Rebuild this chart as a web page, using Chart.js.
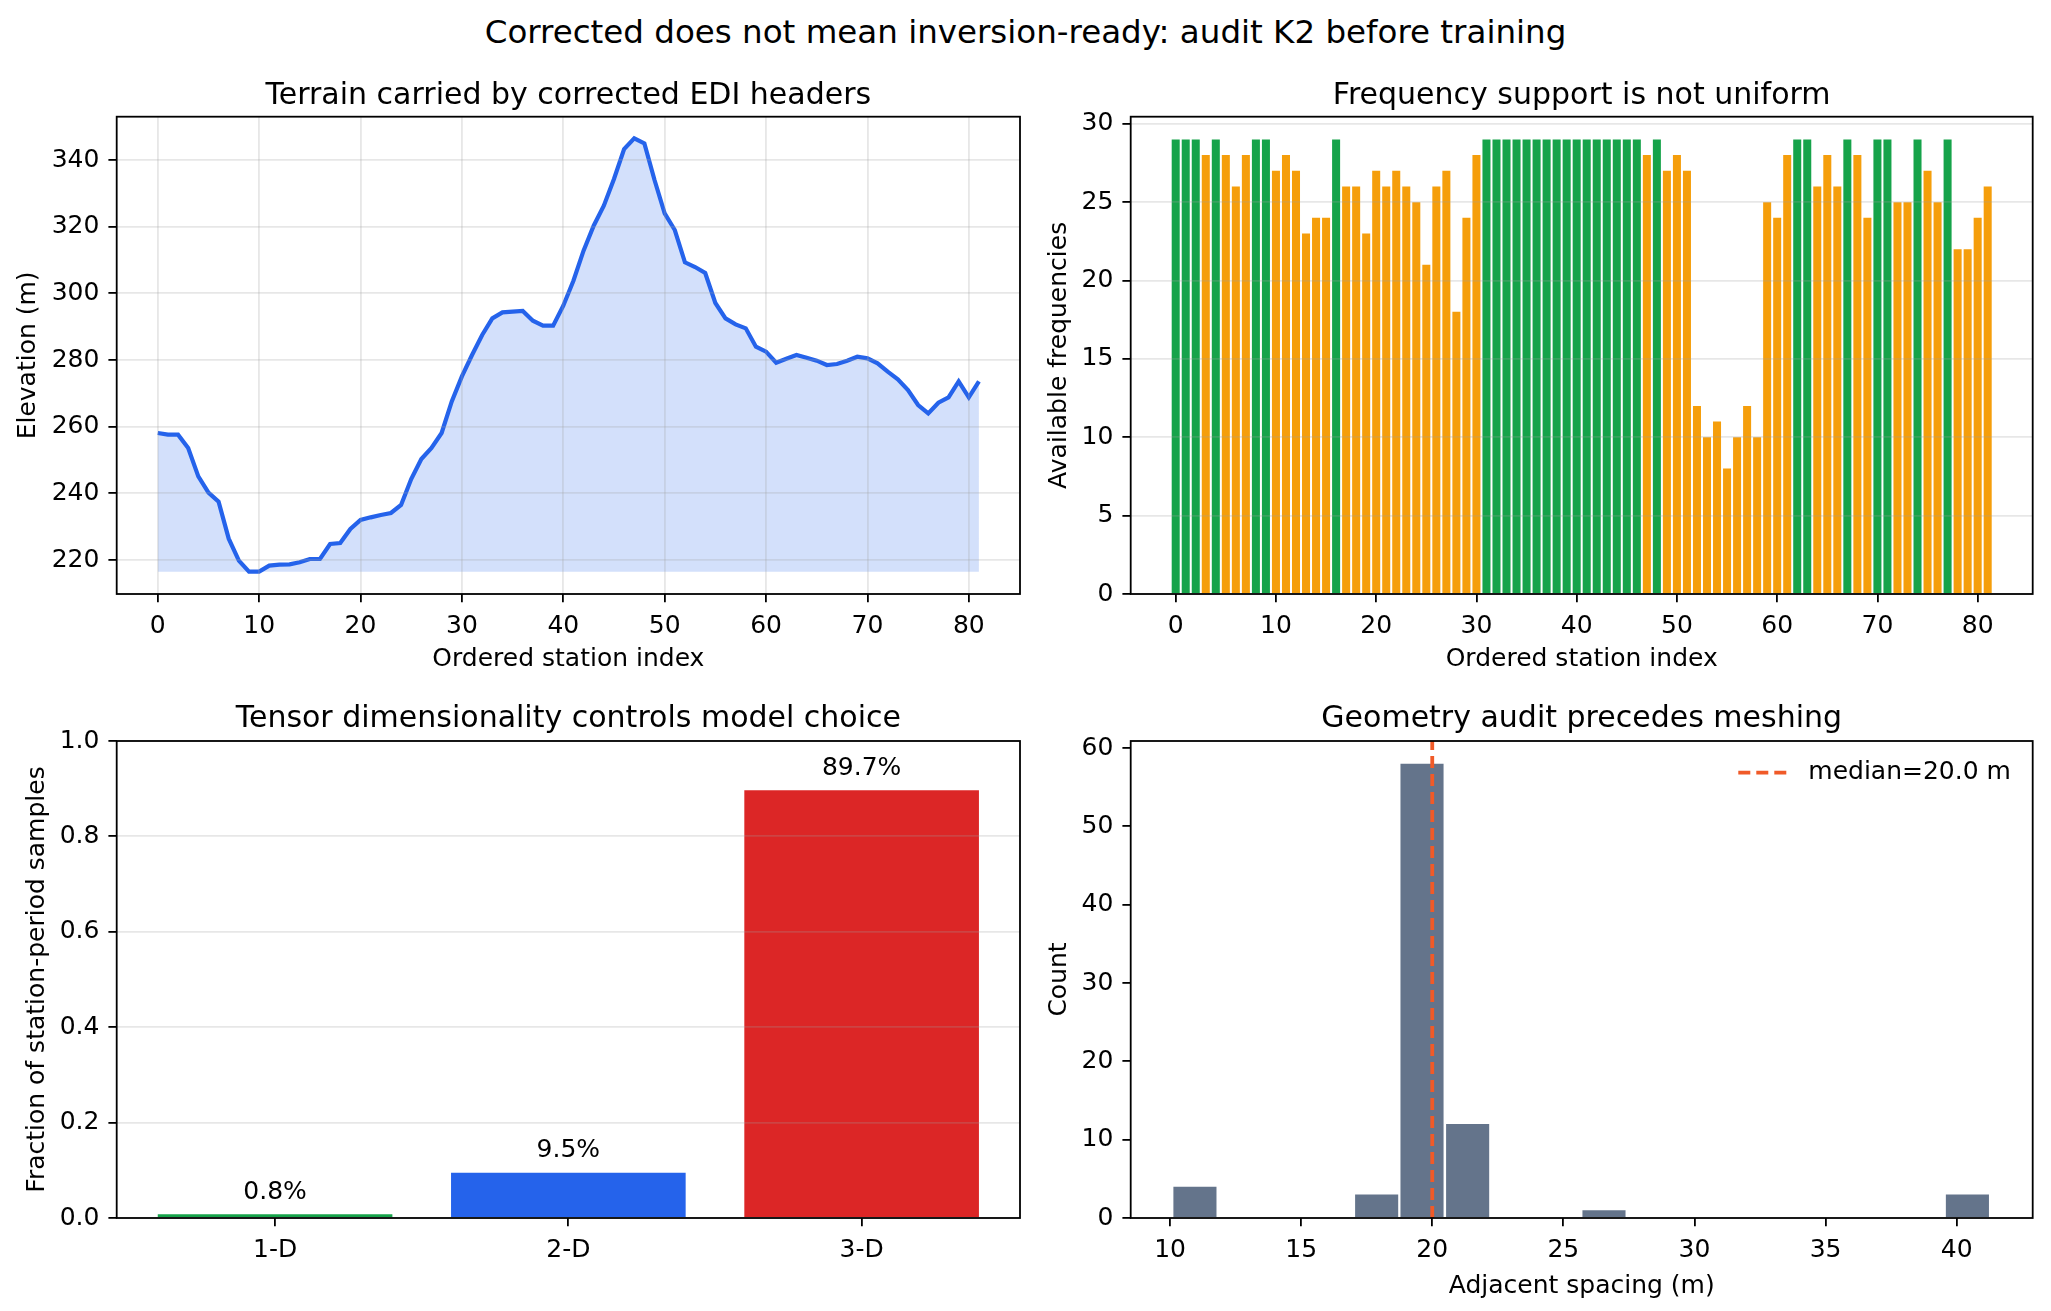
<!DOCTYPE html>
<html>
<head>
<meta charset="utf-8">
<title>Audit K2</title>
<script src="https://cdn.jsdelivr.net/npm/chart.js@4.4.1/dist/chart.umd.min.js"></script>
<style>
  body { margin: 0; background: #fff; width: 2051px; height: 1311px; position: relative; overflow: hidden; font-family: 'DejaVu Sans', sans-serif; }
  .panel { position: absolute; }
  #suptitle { position: absolute; left: 0; top: 16px; width: 2051px; text-align: center; font-size: 32.5px; line-height: 33px; color: #000; }
</style>
</head>
<body>
<div id="suptitle">Corrected does not mean inversion-ready: audit K2 before training</div>
<div class="panel" style="left:0;top:50px;width:1040px;height:630px"><canvas id="terrain"></canvas></div>
<div class="panel" style="left:1035px;top:50px;width:1016px;height:630px"><canvas id="freq"></canvas></div>
<div class="panel" style="left:0;top:680px;width:1040px;height:631px"><canvas id="dims"></canvas></div>
<div class="panel" style="left:1035px;top:680px;width:1016px;height:631px"><canvas id="spacing"></canvas></div>
<script>
'use strict';

// Terrain (elevation per ordered station, m)
var elevation = [
  258.1, 257.6, 257.6, 253.6, 245.1, 240.2, 237.5, 226.4, 219.8, 216.5,
  216.5, 218.3, 218.6, 218.7, 219.3, 220.3, 220.3, 224.8, 225.1, 229.3,
  232.0, 232.8, 233.5, 234.1, 236.5, 244.3, 250.3, 253.6, 258.1, 267.6,
  275.1, 281.5, 287.5, 292.5, 294.3, 294.5, 294.7, 291.8, 290.3, 290.3,
  296.3, 303.8, 312.8, 320.3, 326.3, 334.3, 343.3, 346.5, 345.0, 334.0,
  324.0, 319.0, 309.3, 307.9, 306.1, 297.1, 292.5, 290.7, 289.5, 284.0,
  282.5, 279.2, 280.4, 281.5, 280.7, 279.8, 278.5, 278.8, 279.8, 281.0,
  280.5, 279.0, 276.5, 274.2, 271.0, 266.5, 264.0, 267.2, 268.8, 273.6,
  268.8, 273.6
];

// Available frequencies per station
var freqCount = [
  29, 29, 29, 28, 29, 28, 26, 28, 29, 29,
  27, 28, 27, 23, 24, 24, 29, 26, 26, 23,
  27, 26, 27, 26, 25, 21, 26, 27, 18, 24,
  28, 29, 29, 29, 29, 29, 29, 29, 29, 29,
  29, 29, 29, 29, 29, 29, 29, 28, 29, 27,
  28, 27, 12, 10, 11, 8, 10, 12, 10, 25,
  24, 28, 29, 29, 26, 28, 26, 29, 28, 24,
  29, 29, 25, 25, 29, 27, 25, 29, 22, 22,
  24, 26
];

// Tensor dimensionality
var dimCategories = ['1-D', '2-D', '3-D'];
var dimFraction = [0.008, 0.095, 0.897];

// Adjacent spacing histogram
var spacingBinCenters = [10.95, 12.68, 14.42, 16.15, 17.88, 19.61, 21.35, 23.08, 24.81,
  26.55, 28.28, 30.01, 31.75, 33.48, 35.21, 36.95, 38.68, 40.41];
var spacingCounts = [4, 0, 0, 0, 3, 58, 12, 0, 0, 1, 0, 0, 0, 0, 0, 0, 0, 3];
var medianSpacing = 20.0;

// Tick labels
var stationTicks = [0, 10, 20, 30, 40, 50, 60, 70, 80];
var elevationTicks = [220, 240, 260, 280, 300, 320, 340];
var freqTicks = [0, 5, 10, 15, 20, 25, 30];
var fractionTicks = [0, 0.2, 0.4, 0.6, 0.8, 1.0];
var spacingTicks = [10, 15, 20, 25, 30, 35, 40];
var countTicks = [0, 10, 20, 30, 40, 50, 60];

var FONT = "'DejaVu Sans', sans-serif";
var TXT = 25;
var GREEN = '#16a34a';
var ORANGE = '#f59e0b';
var BLUE = '#2563eb';
var RED = '#dc2626';
var SLATE = '#64748b';
var MEDIAN = '#f05a28';
var GRID = 'rgba(160,160,160,0.25)';

Chart.defaults.font.family = FONT;
Chart.defaults.color = '#000';
Chart.defaults.animation = false;

// black box round the plot area
var frame = {
  id: 'frame',
  afterDraw: function(chart) {
    var a = chart.chartArea;
    var ctx = chart.ctx;
    ctx.save();
    ctx.strokeStyle = '#000';
    ctx.lineWidth = 1.8;
    ctx.strokeRect(a.left, a.top, a.right - a.left, a.bottom - a.top);
    ctx.restore();
  }
};

function fixedTicks(list) {
  return function(scale) {
    scale.ticks = list.map(function(v) { return { value: v }; });
  };
}

function axisX(min, max, ticks, label, opts) {
  opts = opts || {};
  return {
    type: 'linear',
    min: min,
    max: max,
    offset: false,
    afterBuildTicks: fixedTicks(ticks),
    afterFit: function(s) { s.height = opts.height; },
    grid: {
      offset: false,
      drawOnChartArea: !!opts.grid,
      color: GRID,
      lineWidth: 1.8,
      z: 1,
      tickLength: 8.3,
      tickColor: '#000',
      tickWidth: 1.8
    },
    border: { display: false },
    ticks: {
      font: { size: TXT },
      color: '#000',
      padding: 9,
      maxRotation: 0,
      autoSkip: false,
      callback: opts.labels ? function(v) { return opts.labels[v]; } : function(v) { return v; }
    },
    title: {
      display: !!label,
      text: label,
      font: { size: TXT },
      color: '#000',
      padding: { top: 0, bottom: opts.titlePad }
    }
  };
}

function axisY(min, max, ticks, label, opts) {
  return {
    type: 'linear',
    min: min,
    max: max,
    afterBuildTicks: fixedTicks(ticks),
    afterFit: function(s) { s.width = opts.width; },
    grid: {
      drawOnChartArea: !!opts.grid,
      color: GRID,
      lineWidth: 1.8,
      z: 1,
      tickLength: 8.3,
      tickColor: '#000',
      tickWidth: 1.8
    },
    border: { display: false },
    ticks: {
      font: { size: TXT },
      color: '#000',
      padding: 9,
      autoSkip: false,
      callback: opts.fmt || function(v) { return v; }
    },
    title: {
      display: true,
      text: label,
      font: { size: TXT },
      color: '#000',
      padding: { top: opts.titlePad, bottom: 0 }
    }
  };
}

function panelTitle(text, top, bottom) {
  return {
    display: true,
    fullSize: false,
    text: text,
    font: { size: 30, weight: 'normal' },
    color: '#000',
    padding: { top: top, bottom: bottom }
  };
}

// Terrain
var baseline = Math.min.apply(null, elevation);
new Chart(document.getElementById('terrain'), {
  type: 'line',
  data: {
    datasets: [{
      data: elevation.map(function(v, i) { return { x: i, y: v }; }),
      borderColor: BLUE,
      borderWidth: 4.2,
      backgroundColor: 'rgba(37,99,235,0.2)',
      fill: { value: baseline },
      pointRadius: 0,
      tension: 0
    }]
  },
  options: {
    responsive: true,
    maintainAspectRatio: false,
    layout: { padding: { left: 0, right: 20, top: 0, bottom: 0 } },
    plugins: {
      legend: { display: false },
      tooltip: { enabled: false },
      title: panelTitle('Terrain carried by corrected EDI headers', 28.7, 2.0)
    },
    scales: {
      x: axisX(-4.05, 85.05, stationTicks, 'Ordered station index', { grid: true, height: 86, titlePad: 5.5 }),
      y: axisY(209.8, 353, elevationTicks, 'Elevation (m)', { grid: true, width: 116.7, titlePad: 13.7 })
    }
  },
  plugins: [frame]
});

// Frequency support
var fullSet = Math.max.apply(null, freqCount);
new Chart(document.getElementById('freq'), {
  type: 'bar',
  data: {
    datasets: [{
      data: freqCount.map(function(v, i) { return { x: i, y: v }; }),
      backgroundColor: freqCount.map(function(v) { return v === fullSet ? GREEN : ORANGE; }),
      barPercentage: 0.8,
      categoryPercentage: 1.0
    }]
  },
  options: {
    responsive: true,
    maintainAspectRatio: false,
    layout: { padding: { left: 0, right: 1016 - (2032.7 - 1035), top: 0, bottom: 0 } },
    plugins: {
      legend: { display: false },
      tooltip: { enabled: false },
      title: panelTitle('Frequency support is not uniform', 28.7, 2.0)
    },
    scales: {
      x: axisX(-4.49, 85.49, stationTicks, 'Ordered station index', { grid: false, height: 86, titlePad: 5.5 }),
      y: axisY(0, 30.45, freqTicks, 'Available frequencies', { grid: true, width: 1130.7 - 1035, titlePad: 9.2 })
    }
  },
  plugins: [frame]
});

// Tensor dimensionality
var barLabels = {
  id: 'barLabels',
  afterDatasetsDraw: function(chart) {
    var ctx = chart.ctx;
    var xs = chart.scales.x;
    var ys = chart.scales.y;
    ctx.save();
    ctx.font = TXT + 'px ' + FONT;
    ctx.fillStyle = '#000';
    ctx.textAlign = 'center';
    ctx.textBaseline = 'bottom';
    dimFraction.forEach(function(v, i) {
      ctx.fillText((v * 100).toFixed(1) + '%', xs.getPixelForValue(i), ys.getPixelForValue(v + 0.02));
    });
    ctx.restore();
  }
};

new Chart(document.getElementById('dims'), {
  type: 'bar',
  data: {
    datasets: [{
      data: dimFraction.map(function(v, i) { return { x: i, y: v }; }),
      backgroundColor: [GREEN, BLUE, RED],
      barPercentage: 0.8,
      categoryPercentage: 1.0
    }]
  },
  options: {
    responsive: true,
    maintainAspectRatio: false,
    layout: { padding: { left: 0, right: 20, top: 0, bottom: 0 } },
    plugins: {
      legend: { display: false },
      tooltip: { enabled: false },
      title: panelTitle('Tensor dimensionality controls model choice', 21.1, 3.9)
    },
    scales: {
      x: axisX(-0.54, 2.54, [0, 1, 2], '', { grid: false, height: 93, titlePad: 0, labels: dimCategories }),
      y: axisY(0, 1.0, fractionTicks, 'Fraction of station-period samples',
        { grid: true, width: 116.7, titlePad: 22.8, fmt: function(v) { return v.toFixed(1); } })
    }
  },
  plugins: [barLabels, frame]
});

// Spacing histogram
var medianLine = {
  id: 'medianLine',
  afterDatasetsDraw: function(chart) {
    var ctx = chart.ctx;
    var a = chart.chartArea;
    var x = chart.scales.x.getPixelForValue(medianSpacing);
    ctx.save();
    ctx.strokeStyle = MEDIAN;
    ctx.lineWidth = 3.8;
    ctx.setLineDash([12, 6]);
    ctx.beginPath();
    ctx.moveTo(x, a.bottom);
    ctx.lineTo(x, a.top);
    ctx.stroke();
    // legend
    var ly = a.top + 31.7;
    ctx.beginPath();
    ctx.moveTo(a.right - 294.4, ly);
    ctx.lineTo(a.right - 244.4, ly);
    ctx.stroke();
    ctx.setLineDash([]);
    ctx.font = TXT + 'px ' + FONT;
    ctx.fillStyle = '#000';
    ctx.textAlign = 'left';
    ctx.textBaseline = 'middle';
    ctx.fillText('median=' + medianSpacing.toFixed(1) + ' m', a.right - 224.4, ly);
    ctx.restore();
  }
};

new Chart(document.getElementById('spacing'), {
  type: 'bar',
  data: {
    datasets: [{
      data: spacingCounts.map(function(v, i) { return { x: spacingBinCenters[i], y: v }; }),
      backgroundColor: SLATE,
      barPercentage: 0.95,
      categoryPercentage: 1.0
    }]
  },
  options: {
    responsive: true,
    maintainAspectRatio: false,
    layout: { padding: { left: 0, right: 1016 - (2032.7 - 1035), top: 0, bottom: 0 } },
    plugins: {
      legend: { display: false },
      tooltip: { enabled: false },
      title: panelTitle('Geometry audit precedes meshing', 21.1, 3.9)
    },
    scales: {
      x: axisX(8.5, 42.9, spacingTicks, 'Adjacent spacing (m)', { grid: false, height: 93, titlePad: 10 }),
      y: axisY(0, 60.9, countTicks, 'Count', { grid: false, width: 1130.7 - 1035, titlePad: 9.4 })
    }
  },
  plugins: [medianLine, frame]
});
</script>
</body>
</html>
